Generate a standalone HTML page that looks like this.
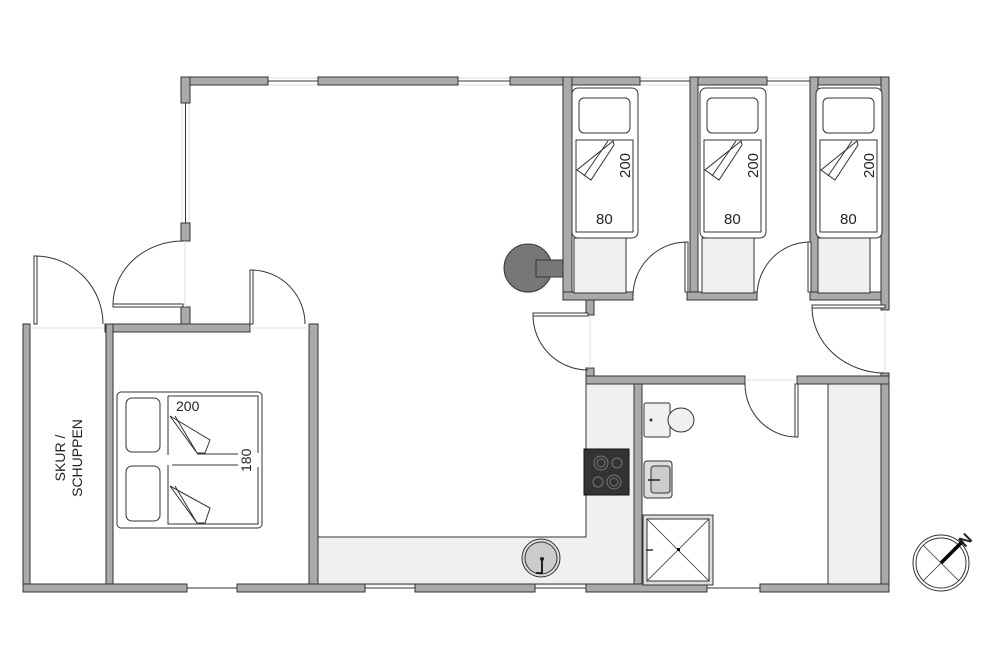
<!DOCTYPE html>
<html><head><meta charset="utf-8"><style>
html,body{margin:0;padding:0;background:#fff;}
svg{display:block;}
text{font-family:"Liberation Sans",sans-serif;fill:#222;}
.w{fill:#aaa;stroke:#333;stroke-width:1;}
.t{fill:none;stroke:#333;stroke-width:1;}
.g{fill:none;stroke:#ddd;stroke-width:1;}
.lf{fill:#f0f0f0;stroke:#333;stroke-width:1;}
.leaf{fill:#fff;stroke:#333;stroke-width:1;}
</style></head><body>
<svg width="1000" height="667" viewBox="0 0 1000 667" xmlns="http://www.w3.org/2000/svg">
<line x1="268" y1="81" x2="318" y2="81" class="t"/>
<line x1="268" y1="78" x2="318" y2="78" class="g"/><line x1="268" y1="85" x2="318" y2="85" class="g"/>
<line x1="458" y1="81" x2="510" y2="81" class="t"/>
<line x1="458" y1="78" x2="510" y2="78" class="g"/><line x1="458" y1="85" x2="510" y2="85" class="g"/>
<line x1="640" y1="81" x2="690" y2="81" class="t"/>
<line x1="640" y1="78" x2="690" y2="78" class="g"/><line x1="640" y1="85" x2="690" y2="85" class="g"/>
<line x1="767" y1="81" x2="813" y2="81" class="t"/>
<line x1="767" y1="78" x2="813" y2="78" class="g"/><line x1="767" y1="85" x2="813" y2="85" class="g"/>
<line x1="185.5" y1="103" x2="185.5" y2="224" class="t"/>
<line x1="182" y1="103" x2="182" y2="224" class="g"/><line x1="189" y1="103" x2="189" y2="224" class="g"/>
<line x1="187" y1="588" x2="237" y2="588" class="t"/>
<line x1="365" y1="588" x2="415" y2="588" class="t"/><line x1="365" y1="585" x2="415" y2="585" class="g"/>
<line x1="535" y1="588" x2="586" y2="588" class="t"/><line x1="535" y1="585" x2="586" y2="585" class="g"/>
<line x1="707" y1="588" x2="760" y2="588" class="t"/>

<path d="M586 384 H634 V584 H318 V537 H586 Z" class="lf"/>
<rect x="828" y="384" width="53" height="200" class="lf"/>

<rect x="181" y="77" width="87" height="8" class="w"/>
<rect x="318" y="77" width="140" height="8" class="w"/>
<rect x="510" y="77" width="130" height="8" class="w"/>
<rect x="690" y="77" width="77" height="8" class="w"/>
<rect x="813" y="77" width="76" height="8" class="w"/>
<rect x="181" y="77" width="9" height="26" class="w"/>
<rect x="181" y="223" width="9" height="18" class="w"/>
<rect x="881" y="77" width="8" height="233" class="w"/>
<rect x="881" y="373" width="8" height="219" class="w"/>
<rect x="563" y="77" width="9" height="223" class="w"/>
<rect x="690" y="77" width="8" height="223" class="w"/>
<rect x="810" y="77" width="8" height="223" class="w"/>
<rect x="563" y="292" width="70" height="8" class="w"/>
<rect x="687" y="292" width="70" height="8" class="w"/>
<rect x="810" y="292" width="71" height="8" class="w"/>
<rect x="586" y="300" width="8" height="15" class="w"/>
<rect x="586" y="368" width="8" height="16" class="w"/>
<rect x="586" y="376" width="159" height="8" class="w"/>
<rect x="797" y="376" width="92" height="8" class="w"/>
<rect x="634" y="384" width="8" height="208" class="w"/>
<rect x="105" y="324" width="145" height="8" class="w"/>
<rect x="181" y="307" width="9" height="17" class="w"/>
<rect x="309" y="324" width="9" height="268" class="w"/>
<rect x="23" y="324" width="7" height="268" class="w"/>
<rect x="106" y="324" width="7" height="262" class="w"/>
<rect x="23" y="584" width="164" height="8" class="w"/>
<rect x="237" y="584" width="128" height="8" class="w"/>
<rect x="415" y="584" width="120" height="8" class="w"/>
<rect x="586" y="584" width="121" height="8" class="w"/>
<rect x="760" y="584" width="129" height="8" class="w"/>

<line x1="30" y1="328" x2="103" y2="328" class="g"/>
<rect x="34" y="256" width="3" height="68" class="leaf"/>
<path d="M36 256 A68 68 0 0 1 103 324" class="t"/>
<rect x="113" y="304" width="70" height="3" class="leaf"/>
<path d="M113 304 A70 64 0 0 1 183 241" class="t"/>
<line x1="185" y1="241" x2="185" y2="307" class="g"/>
<line x1="250" y1="328" x2="309" y2="328" class="g"/>
<rect x="250" y="270" width="3" height="54" class="leaf"/>
<path d="M252 270 A54 54 0 0 1 305 324" class="t"/>
<rect x="685" y="242" width="3" height="50" class="leaf"/>
<path d="M633 296 A54 54 0 0 1 686 242" class="t"/>
<rect x="808" y="242" width="3" height="50" class="leaf"/>
<path d="M757 296 A53 54 0 0 1 809 242" class="t"/>
<rect x="533" y="313" width="55" height="3" class="leaf"/>
<path d="M533 315 A55 55 0 0 0 588 370" class="t"/>
<line x1="590" y1="316" x2="590" y2="368" class="g"/>
<rect x="812" y="305" width="73" height="3" class="leaf"/>
<path d="M812 307 A73 66 0 0 0 885 373" class="t"/>
<line x1="885" y1="310" x2="885" y2="373" class="g"/>
<rect x="795" y="384" width="3" height="53" class="leaf"/>
<path d="M745 384 A52 53 0 0 0 797 437" class="t"/>
<line x1="745" y1="380" x2="797" y2="380" class="g"/>

<circle cx="528" cy="268" r="24" fill="#777" stroke="#333"/>
<rect x="536" y="260" width="27" height="17" fill="#777" stroke="#333"/>

<g id="b1">
<rect x="572" y="88" width="66" height="150" rx="6" fill="#fff" stroke="#333"/>
<rect x="576" y="140" width="57" height="92" fill="#fff" stroke="#333"/>
<rect x="579" y="98" width="51" height="35" rx="5" fill="#fff" stroke="#333"/>
<path d="M613 141 L577 170 L591 180 L614 145 Z" class="t" fill="#fff"/>
<path d="M608 141 L584 176" class="t"/>
<text x="0" y="0" font-size="15" transform="translate(630,178) rotate(-90)">200</text>
<text x="596" y="224" font-size="15">80</text>
<rect x="574" y="238" width="52" height="55" fill="#f0f0f0" stroke="#333"/>
</g>
<use href="#b1" x="128"/>
<use href="#b1" x="244"/>

<rect x="117" y="392" width="145" height="136" rx="4" fill="#fff" stroke="#333"/>
<path d="M168 396 H258 V453" class="t"/>
<path d="M258 467 V524 H168 V396" class="t"/>
<rect x="126" y="398" width="34" height="54" rx="6" fill="#fff" stroke="#333"/>
<rect x="126" y="466" width="34" height="55" rx="6" fill="#fff" stroke="#333"/>
<path d="M197 454 H238 M172 465 H238" class="t"/>
<rect x="166" y="455" width="6" height="10" fill="#fff"/>
<path d="M170 416 L210 440 L205 453 L197 453 Z M175 416 L197 453" class="t" fill="#fff"/>
<path d="M170 486 L210 508 L205 523 L197 523 Z M175 486 L197 523" class="t" fill="#fff"/>
<text x="176" y="411" font-size="14">200</text>
<text x="0" y="0" font-size="14" transform="translate(251,472) rotate(-90)">180</text>

<text font-size="14" transform="translate(65,458) rotate(-90)" text-anchor="middle">SKUR /</text>
<text font-size="14" transform="translate(82,458) rotate(-90)" text-anchor="middle">SCHUPPEN</text>

<rect x="584" y="449" width="45" height="46" fill="#333" stroke="#111"/>
<circle cx="601" cy="463" r="7" fill="none" stroke="#777"/><circle cx="601" cy="463" r="4" fill="none" stroke="#777"/>
<circle cx="617" cy="463" r="5" fill="none" stroke="#777"/>
<circle cx="598" cy="482" r="5" fill="none" stroke="#777"/>
<circle cx="614" cy="482" r="7" fill="none" stroke="#777"/><circle cx="614" cy="482" r="4" fill="none" stroke="#777"/>
<circle cx="541" cy="558" r="19" fill="#ddd" stroke="#333"/>
<circle cx="541" cy="558" r="16" fill="#ccc" stroke="#333"/>
<circle cx="542" cy="559" r="2" fill="#222"/>
<path d="M542 561 V573 H536" stroke="#222" stroke-width="2" fill="none"/>

<rect x="644" y="403" width="26" height="34" rx="2" fill="#f0f0f0" stroke="#333"/>
<circle cx="651" cy="420" r="1.5" fill="#333"/>
<ellipse cx="681" cy="420" rx="13" ry="12" fill="#f0f0f0" stroke="#333"/>
<rect x="644" y="461" width="28" height="37" rx="3" fill="#ddd" stroke="#333"/>
<rect x="651" y="466" width="19" height="27" rx="3" fill="#ccc" stroke="#333"/>
<path d="M648 480 H660" stroke="#222" stroke-width="1.5"/>
<rect x="643" y="515" width="70" height="70" fill="#ddd" stroke="#333"/>
<rect x="647" y="519" width="62" height="62" fill="#fff" stroke="#333"/>
<path d="M647 519 L709 581 M709 519 L647 581" stroke="#333" stroke-width="0.8"/>
<rect x="677" y="548" width="3" height="3" fill="#000"/>
<path d="M646 550 H653" stroke="#333" stroke-width="1.5"/>

<circle cx="941" cy="563" r="28" fill="none" stroke="#333"/>
<circle cx="941" cy="563" r="25" fill="none" stroke="#333"/>
<path d="M923 545 L959 581 M959 545 L923 581" stroke="#333" stroke-width="0.8"/>
<line x1="941" y1="563" x2="963" y2="541" stroke="#000" stroke-width="3.5"/>
<text font-size="16" font-weight="bold" transform="translate(965,548) rotate(-45)">N</text>
</svg>
</body></html>
